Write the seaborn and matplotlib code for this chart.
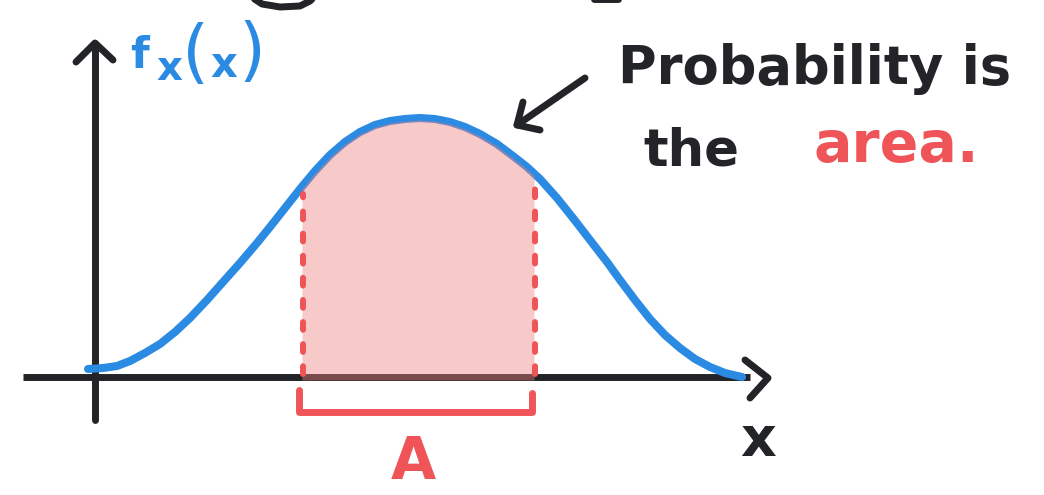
import numpy as np
import pandas as pd
import matplotlib
matplotlib.use("Agg")
import matplotlib.pyplot as plt
import seaborn as sns

# Density curve f_X(x) (x to the right, f up, origin at the axes' crossing)
curve_x = [-7, 8, 22, 35, 50, 65, 80, 95, 112, 128, 145, 162, 175, 190,
           205, 220, 235, 250, 265, 280, 295, 310, 325, 340, 355, 370,
           385, 402, 418, 432, 445, 462, 478, 495, 512, 525, 540, 555,
           570, 585, 600, 615, 630, 647]
curve_f = [8, 9, 11, 16, 24, 33, 45, 59, 77, 95, 114, 134, 150, 169,
           188, 206, 222, 235, 245, 252, 256, 258, 259, 258, 255, 250,
           243, 233, 221, 210, 198, 179, 159, 137, 115, 97, 77, 58,
           42, 29, 18, 10, 4, 0]

# Interval A whose probability is shaded
interval_a = [207, 439]

y_label = ("f", "x", "(", "x", ")")
x_label = "x"
interval_label = "A"
note_words = ["Probability is", "the", "area."]

BLACK = "#232428"
BLUE = "#2b8be3"
RED = "#ef5558"
PINK = "#f08080"

sns.set_theme(style="white")
plt.rcParams["font.family"] = ["DejaVu Sans"]

fig = plt.figure(figsize=(10.44, 4.95), dpi=100)
ax = fig.add_axes([0, 0, 1, 1])
ax.set_xlim(-95, 949)
ax.set_ylim(-118, 377)
ax.set_axis_off()

df = pd.DataFrame({"x": curve_x, "f": curve_f})

# axes with open arrow heads
axis_kw = dict(color=BLACK, lw=5, solid_capstyle="round", solid_joinstyle="round", zorder=1)
ax.plot([0, 0], [-43, 333], **axis_kw)
ax.plot([-19, 0, 18], [315, 334, 317], **axis_kw)
ax.plot([-72, 655], [0, 0], color=BLACK, lw=5, solid_capstyle="butt", zorder=1)
ax.plot([650, 673, 655], [17, -1, -21], **axis_kw)

# the density curve
sns.lineplot(data=df, x="x", y="f", ax=ax, color=BLUE, linewidth=5.8,
             solid_capstyle="round", solid_joinstyle="round", zorder=2)

# shaded probability over A
xs = np.linspace(interval_a[0], interval_a[1], 200)
top = np.interp(xs, curve_x, curve_f) - 2
ax.fill_between(xs, -3, top, color=PINK, alpha=0.42, lw=0, zorder=3)

# dashed verticals at the interval ends
for xa in interval_a:
    ftop = np.interp(xa, curve_x, curve_f) - 7
    ax.plot([xa + 1, xa + 1], [3, ftop], color=RED, lw=4.3,
            dashes=(1.3, 2.4), dash_capstyle="round", zorder=4)

# bracket marking A below the axis
ax.plot([interval_a[0] - 3, interval_a[0] - 3, interval_a[1] - 2, interval_a[1] - 2],
        [-13, -35, -35, -16], color=RED, lw=5,
        solid_capstyle="round", solid_joinstyle="round", zorder=4)

# call-out arrow pointing at the curve
arrow_kw = dict(color=BLACK, lw=5, solid_capstyle="round", solid_joinstyle="round", zorder=4)
ax.plot([490, 422], [299, 252], **arrow_kw)
ax.plot([428, 422, 445], [275, 252, 247], **arrow_kw)

# strokes of the heading running off the top edge
ax.plot([158, 167, 185, 205, 215, 219], [379, 373, 370, 371, 376, 380], **arrow_kw)
ax.plot([499, 523], [378, 378], **arrow_kw)

# y-axis label f_X(x)
lab_kw = dict(color=BLUE, fontweight="bold", ha="left")
par_kw = dict(color=BLUE, fontweight="normal", ha="left", va="center", fontsize=50)
ax.text(35, 309, y_label[0], fontsize=31, va="baseline", **lab_kw)
ax.text(61, 297, y_label[1], fontsize=29, va="baseline", **lab_kw)
ax.text(87, 322, y_label[2], **par_kw)
ax.text(115, 300, y_label[3], fontsize=30, va="baseline", **lab_kw)
ax.text(143, 324, y_label[4], **par_kw)

# x-axis label and interval label
ax.text(663, -79, x_label, color=BLACK, fontsize=40, fontweight="bold", ha="center", va="baseline")
ax.text(318, -102, interval_label, color=RED, fontsize=42, fontweight="bold", ha="center", va="baseline")

# note
ax.text(523, 293, note_words[0], color=BLACK, fontsize=38, fontweight="bold", ha="left", va="baseline")
ax.text(548, 212, note_words[1], color=BLACK, fontsize=37, fontweight="bold", ha="left", va="baseline")
ax.text(718, 215, note_words[2], color=RED, fontsize=41, fontweight="bold", ha="left", va="baseline")

fig.savefig("out.png", dpi=100, facecolor="white")
